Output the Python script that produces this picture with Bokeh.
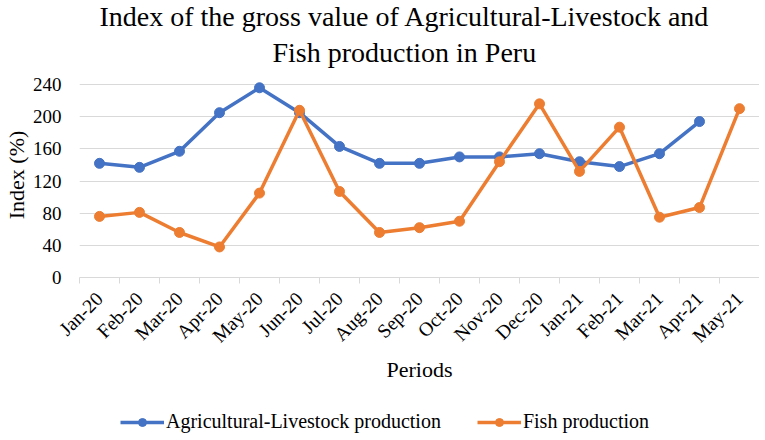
import math
from bokeh.plotting import figure
from bokeh.layouts import column
from bokeh.models import Range1d, FixedTicker, Legend, LegendItem, Title
from bokeh.embed import file_html
from bokeh.resources import INLINE

periods = ["Jan-20", "Feb-20", "Mar-20", "Apr-20", "May-20", "Jun-20", "Jul-20", "Aug-20",
           "Sep-20", "Oct-20", "Nov-20", "Dec-20", "Jan-21", "Feb-21", "Mar-21", "Apr-21", "May-21"]
agri = [142, 137, 157, 205, 236, 205, 163, 142, 142, 150, 150, 154, 144, 138, 154, 194, float("nan")]
fish = [76, 81, 56, 38, 105, 208, 107, 56, 62, 70, 144, 216, 132, 187, 75, 87, 210]
y_ticks = [0, 40, 80, 120, 160, 200, 240]
title_lines = ["Index of the gross value of Agricultural-Livestock and", "Fish production in Peru"]
series_names = ["Agricultural-Livestock production", "Fish production"]

SERIF = "Liberation Serif"
BLUE = "#4472C4"
ORANGE = "#ED7D31"

xs = list(range(len(periods)))

p = figure(frame_width=680, frame_height=205, output_backend="svg", toolbar_location=None,
           x_range=Range1d(-0.5, len(periods) - 0.5), y_range=Range1d(0, 255),
           min_border_left=69, min_border_right=0, min_border_top=10, min_border_bottom=0)
p.title = None

# two title lines (closest to the frame added first)
for txt, off, so in [(title_lines[1], 193, 10), (title_lines[0], 20, -4)]:
    t = Title(text=txt, align="left", offset=off, text_font=SERIF, text_font_size="28px",
              text_font_style="normal", text_color="#000000", standoff=so)
    p.add_layout(t, "above")

p.outline_line_color = None
p.xgrid.grid_line_color = None
p.ygrid.grid_line_color = "#d9d9d9"
p.ygrid.grid_line_width = 1

p.yaxis.ticker = FixedTicker(ticks=y_ticks)
p.yaxis.axis_line_color = None
p.yaxis.major_tick_line_color = None
p.yaxis.minor_tick_line_color = None
p.yaxis.major_label_text_font = SERIF
p.yaxis.major_label_text_font_size = "19px"
p.yaxis.major_label_text_color = "#000000"
p.yaxis.major_label_standoff = 12
p.yaxis.axis_label = "Index (%)"
p.yaxis.axis_label_text_font = SERIF
p.yaxis.axis_label_text_font_size = "22px"
p.yaxis.axis_label_text_font_style = "normal"
p.yaxis.axis_label_text_color = "#000000"
p.yaxis.axis_label_standoff = 1

p.xaxis.ticker = FixedTicker(ticks=xs, minor_ticks=[i - 0.5 for i in range(len(periods) + 1)])
p.xaxis.major_label_overrides = {i: lab for i, lab in enumerate(periods)}
p.xaxis.major_label_orientation = math.pi / 4
p.xaxis.major_tick_line_color = None
p.xaxis.minor_tick_line_color = "#d9d9d9"
p.xaxis.minor_tick_in = 0
p.xaxis.minor_tick_out = 6
p.xaxis.axis_line_color = "#d9d9d9"
p.xaxis.major_label_text_font = SERIF
p.xaxis.major_label_text_font_size = "19.5px"
p.xaxis.major_label_text_color = "#000000"
p.xaxis.major_label_standoff = 12
p.xaxis.axis_label = "Periods"
p.xaxis.axis_label_text_font = SERIF
p.xaxis.axis_label_text_font_size = "22px"
p.xaxis.axis_label_text_font_style = "normal"
p.xaxis.axis_label_text_color = "#000000"
p.xaxis.axis_label_standoff = 0

p.line(xs, agri, line_color=BLUE, line_width=3.5)
p.scatter(xs, agri, size=10, fill_color=BLUE, line_color=BLUE)
p.line(xs, fish, line_color=ORANGE, line_width=3.5)
p.scatter(xs, fish, size=10, fill_color=ORANGE, line_color=ORANGE)

# legend strip: a small plot whose view lies outside the data, so only the legend shows
pl = figure(width=749, height=48, output_backend="svg", toolbar_location=None,
            x_range=Range1d(1000, 1001), y_range=Range1d(1000, 1001),
            x_axis_location=None, y_axis_location=None, min_border=0)
pl.title = None
pl.outline_line_color = None
pl.xgrid.visible = False
pl.ygrid.visible = False
la = pl.line(xs, agri, line_color=BLUE, line_width=3.5)
sa = pl.scatter(xs, agri, size=10, fill_color=BLUE, line_color=BLUE)
lf = pl.line(xs, fish, line_color=ORANGE, line_width=3.5)
sf = pl.scatter(xs, fish, size=10, fill_color=ORANGE, line_color=ORANGE)

legend = Legend(items=[LegendItem(label=series_names[0], renderers=[la, sa]),
                       LegendItem(label=series_names[1], renderers=[lf, sf])],
                orientation="horizontal", location=(41, 0))
legend.border_line_color = None
legend.background_fill_alpha = 0
legend.label_text_font = SERIF
legend.label_text_font_size = "20px"
legend.label_text_color = "#000000"
legend.glyph_width = 44
legend.label_standoff = 2
legend.spacing = 36
legend.margin = 0
legend.padding = 0
pl.add_layout(legend, "center")

layout = column(p, pl, spacing=0)
open("out.html", "w").write(file_html(layout, INLINE))
